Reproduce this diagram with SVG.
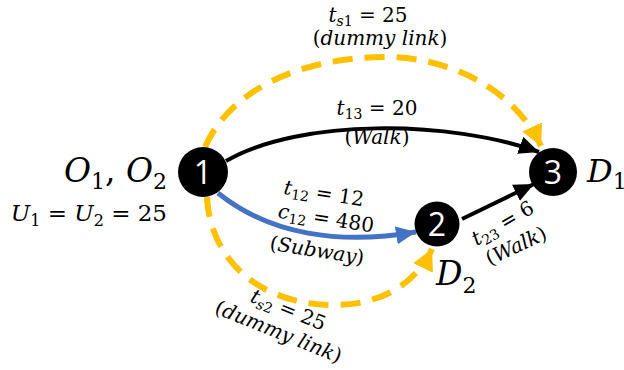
<svg xmlns="http://www.w3.org/2000/svg" width="624" height="370" viewBox="0 0 624 370">
<defs>
<style>
.lbl{font-family:"DejaVu Serif","Liberation Serif",serif;font-size:20px;fill:#000}
.it{font-style:italic}
.big{font-family:"DejaVu Serif","Liberation Serif",serif;fill:#000}
.num{font-family:"Open Sans","Liberation Sans",sans-serif;font-size:32px;fill:#fff;text-anchor:middle}
.yel{fill:none;stroke:#FFC000;stroke-width:6;stroke-dasharray:20 12}
</style>
<marker id="ab" markerUnits="userSpaceOnUse" markerWidth="24" markerHeight="20" refX="20" refY="9" orient="auto"><path d="M0,0 L20,9 L0,18 Z" fill="#000"/></marker>
<marker id="abl" markerUnits="userSpaceOnUse" markerWidth="24" markerHeight="20" refX="20" refY="9" orient="auto"><path d="M0,0 L20,9 L0,18 Z" fill="#4472C4"/></marker>
<marker id="ay" markerUnits="userSpaceOnUse" markerWidth="24" markerHeight="24" refX="21" refY="11" orient="auto"><path d="M0,0 L21,11 L0,22 Z" fill="#FFC000"/></marker>
</defs>
<rect width="624" height="370" fill="#fff"/>
<g id="connectors">
<path class="yel" d="M205,147 C230,90 300,58 382,57 C450,56 515,90 541,146" marker-end="url(#ay)"/>
<path class="yel" d="M207,197 C210,260 260,305 334,305 C380,305 415,285 432,249" marker-end="url(#ay)"/>
<path d="M226,161 C300,118 450,120 539,152" fill="none" stroke="#000" stroke-width="4" marker-end="url(#ab)"/>
<path d="M218,193 C270,235 340,245 416,232" fill="none" stroke="#4472C4" stroke-width="5" marker-end="url(#abl)"/>
<path d="M462,219 L534,184" fill="none" stroke="#000" stroke-width="4" marker-end="url(#ab)"/>
</g>
<g id="node1"><circle cx="203" cy="172" r="25" fill="#000"/><text class="num" x="203" y="184">1</text></g>
<g id="node2"><circle cx="437" cy="224" r="22.5" fill="#000"/><text class="num" x="437" y="236">2</text></g>
<g id="node3"><circle cx="553" cy="172" r="24" fill="#000"/><text class="num" x="553" y="184">3</text></g>
<g id="labels">
<text class="big" x="167" y="182" font-size="33" text-anchor="end"><tspan class="it">O</tspan><tspan font-size="22" dy="7">1</tspan><tspan dy="-7">, </tspan><tspan class="it">O</tspan><tspan font-size="22" dy="7">2</tspan></text>
<text class="big" x="167" y="221" font-size="23" text-anchor="end"><tspan class="it">U</tspan><tspan font-size="16" dy="5">1</tspan><tspan dy="-5"> = </tspan><tspan class="it">U</tspan><tspan font-size="16" dy="5">2</tspan><tspan dy="-5"> = 25</tspan></text>
<text class="big" x="587" y="182" font-size="32"><tspan class="it">D</tspan><tspan font-size="22" dy="7">1</tspan></text>
<text class="big" x="436" y="285" font-size="33"><tspan class="it">D</tspan><tspan font-size="22" dy="8">2</tspan></text>
<text class="lbl" x="368" y="22" text-anchor="middle"><tspan class="it">t</tspan><tspan font-size="14" dy="4"><tspan class="it">s</tspan>1</tspan><tspan dy="-4"> = 25</tspan></text>
<text class="lbl" x="380" y="45" text-anchor="middle">(<tspan class="it">dummy link</tspan>)</text>
<text class="lbl" x="377" y="115" text-anchor="middle"><tspan class="it">t</tspan><tspan font-size="14" dy="4">13</tspan><tspan dy="-4"> = 20</tspan></text>
<text class="lbl" x="377" y="144" text-anchor="middle">(<tspan class="it">Walk</tspan>)</text>
<text class="lbl" text-anchor="middle" transform="translate(323,200) rotate(9)"><tspan class="it">t</tspan><tspan font-size="14" dy="4">12</tspan><tspan dy="-4"> = 12</tspan></text>
<text class="lbl" text-anchor="middle" transform="translate(325,225) rotate(9)"><tspan class="it">c</tspan><tspan font-size="14" dy="4">12</tspan><tspan dy="-4"> = 480</tspan></text>
<text class="lbl" text-anchor="middle" transform="translate(316,257) rotate(9)">(<tspan class="it">Subway</tspan>)</text>
<text class="lbl" text-anchor="middle" transform="translate(506,229) rotate(-30)"><tspan class="it">t</tspan><tspan font-size="14" dy="4">23</tspan><tspan dy="-4"> = 6</tspan></text>
<text class="lbl" text-anchor="middle" transform="translate(519,252) rotate(-25)">(<tspan class="it">Walk</tspan>)</text>
<text class="lbl" text-anchor="middle" transform="translate(286,316) rotate(22)"><tspan class="it">t</tspan><tspan font-size="14" dy="4"><tspan class="it">s</tspan>2</tspan><tspan dy="-4"> = 25</tspan></text>
<text class="lbl" text-anchor="middle" transform="translate(276,338) rotate(22)">(<tspan class="it">dummy link</tspan>)</text>
</g>
</svg>
